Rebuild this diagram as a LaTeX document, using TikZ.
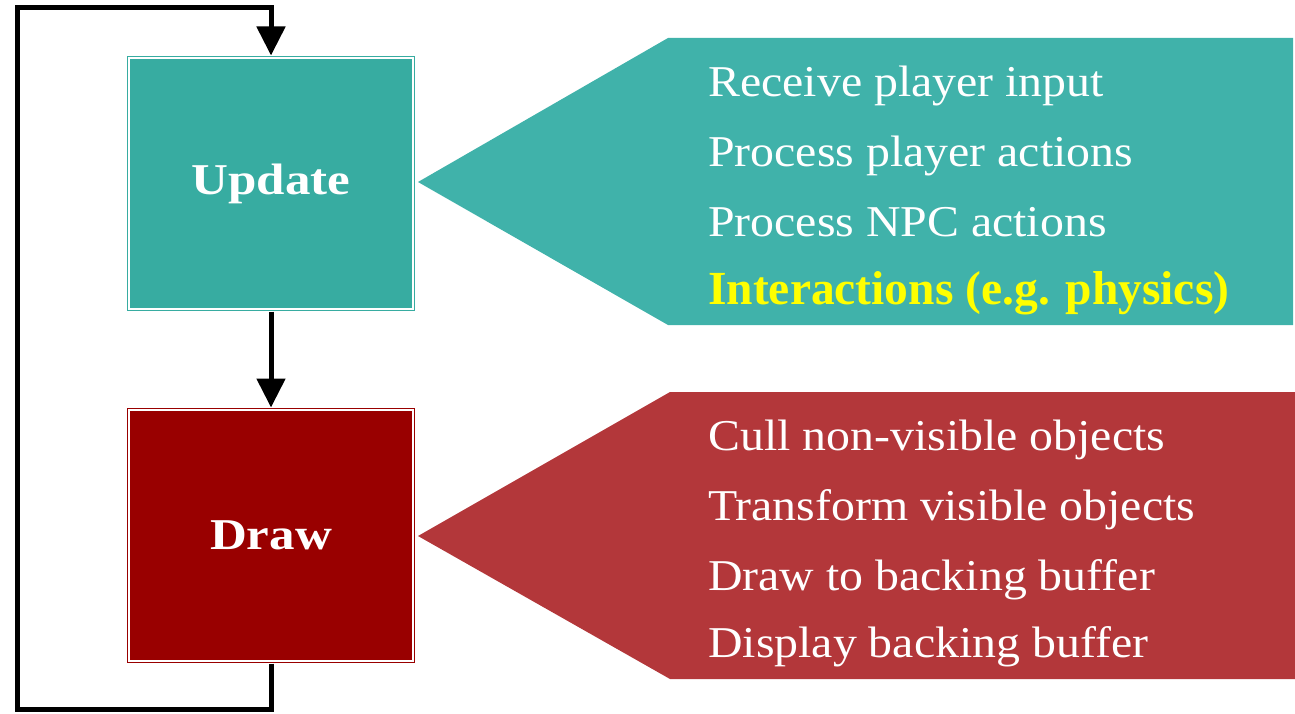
\documentclass[tikz,border=0pt]{standalone}
\usepackage{fontspec}
\setmainfont{Liberation Serif}
\newfontfamily\itemfont[FakeStretch=1.087]{Liberation Serif}
\newfontfamily\titlefont[FakeStretch=1.16]{Liberation Serif}
\usetikzlibrary{arrows.meta}
\definecolor{tealbox}{HTML}{37ACA1}
\definecolor{tealcall}{HTML}{40B2AA}
\definecolor{redbox}{HTML}{990000}
\definecolor{redcall}{HTML}{B3373A}
\definecolor{hiyellow}{HTML}{FFFF00}
\tikzset{
  stagebox/.style={rectangle, draw=#1, double=white, double distance=2pt, line width=1pt, fill=#1,
    minimum width=284pt, minimum height=251pt, inner sep=0pt, text=white,
    font=\titlefont\fontsize{44}{50}\selectfont\bfseries},
  flowline/.style={line width=5pt, line join=miter, -{Triangle[length=29pt,width=28pt]}},
  itemtext/.style={anchor=base west, inner sep=0pt, text=white, font=\itemfont\fontsize{44}{50}\selectfont},
  hitext/.style={anchor=base west, inner sep=0pt, text=hiyellow, font=\fontsize{47.5}{50}\selectfont\bfseries},
}
\begin{document}
\begin{tikzpicture}[x=1pt,y=-1pt]
\useasboundingbox (0,0) rectangle (1295,714);
% callout shapes
\fill[tealcall] (418,182) -- (668,38) -- (1293,38) -- (1293,325) -- (668,325) -- cycle;
\fill[redcall] (418,536) -- (670,392) -- (1295,392) -- (1295,679) -- (670,679) -- cycle;
% boxes
\node[stagebox=tealbox] (update) at (271,183.5) {Update};
\node[stagebox=redbox] (draw) at (271,535.5) {Draw};
% connectors
\draw[flowline] ([yshift=-2pt]update.south) -- ([yshift=2pt]draw.north);
\coordinate (c1) at (271,709);
\coordinate (c2) at (17,709);
\coordinate (c3) at (17,8);
\coordinate (c4) at (271,8);
\draw[flowline] ([yshift=-2pt]draw.south) -- (c1) -- (c2) -- (c3) -- (c4) -- ([yshift=2pt]update.north);
% callout texts
\node[itemtext] (u1) at (708,97) {Receive player input};
\node[itemtext] (u2) at (708,167) {Process player actions};
\node[itemtext] (u3) at (708,236) {Process NPC actions};
\node[hitext] (u4) at (708,304) {Interactions (e.g. physics)};
\node[itemtext] (d1) at (708,450) {Cull non-visible objects};
\node[itemtext] (d2) at (708,520) {Transform visible objects};
\node[itemtext] (d3) at (708,590) {Draw to backing buffer};
\node[itemtext] (d4) at (708,657) {Display backing buffer};
\end{tikzpicture}
\end{document}
